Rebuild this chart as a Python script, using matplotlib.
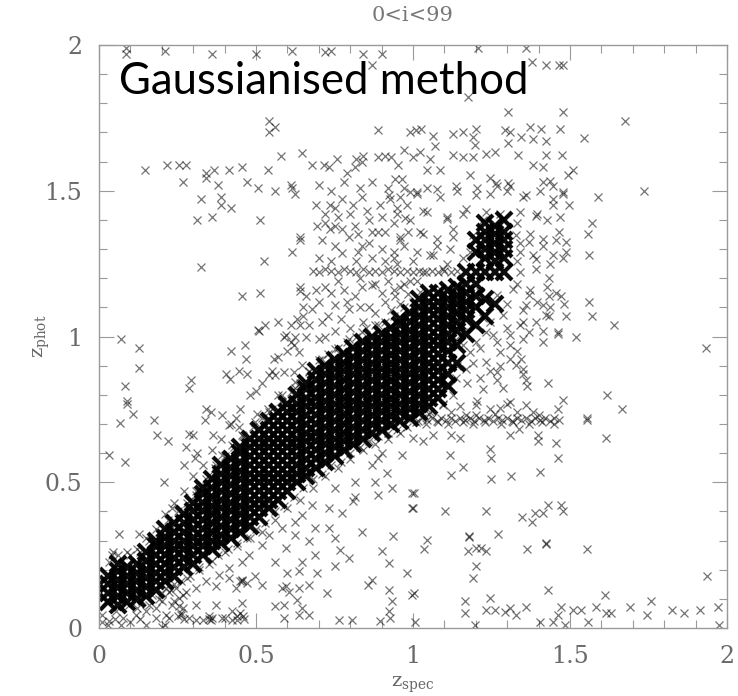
import matplotlib.pyplot as plt
import numpy as np

# dense core of the z_phot / z_spec band: (z_spec, [z_phot values]) read column by column
core_cols = [
    (0.03, [0.09, 0.12, 0.15, 0.18]),
    (0.06, [0.08, 0.11, 0.14, 0.165, 0.195, 0.22]),
    (0.09, [0.09, 0.12, 0.15, 0.18, 0.21]),
    (0.12, [0.10, 0.13, 0.16, 0.19, 0.22]),
    (0.15, [0.11, 0.14, 0.17, 0.20, 0.23, 0.26]),
    (0.18, [0.13, 0.16, 0.19, 0.22, 0.25, 0.28, 0.30]),
    (0.21, [0.16, 0.19, 0.22, 0.25, 0.28, 0.31, 0.34]),
    (0.24, [0.18, 0.21, 0.24, 0.27, 0.30, 0.33, 0.36]),
    (0.27, [0.21, 0.24, 0.27, 0.30, 0.33, 0.36, 0.39]),
    (0.30, [0.22, 0.25, 0.28, 0.31, 0.34, 0.37, 0.40, 0.43]),
    (0.33, [0.25, 0.28, 0.31, 0.34, 0.37, 0.40, 0.43, 0.46, 0.48]),
    (0.36, [0.27, 0.30, 0.33, 0.36, 0.39, 0.42, 0.45, 0.48, 0.51]),
    (0.39, [0.29, 0.32, 0.35, 0.38, 0.41, 0.44, 0.47, 0.50, 0.53, 0.56]),
    (0.42, [0.31, 0.34, 0.37, 0.40, 0.43, 0.46, 0.49, 0.52, 0.55, 0.58]),
    (0.45, [0.33, 0.36, 0.39, 0.42, 0.45, 0.48, 0.51, 0.54, 0.57, 0.60, 0.62]),
    (0.48, [0.35, 0.38, 0.41, 0.44, 0.47, 0.50, 0.53, 0.56, 0.59, 0.62, 0.65]),
    (0.51, [0.38, 0.41, 0.44, 0.47, 0.50, 0.53, 0.56, 0.59, 0.62, 0.65, 0.68]),
    (0.54, [0.41, 0.44, 0.47, 0.50, 0.53, 0.56, 0.59, 0.62, 0.65, 0.68, 0.71]),
    (0.57, [0.44, 0.47, 0.50, 0.53, 0.56, 0.59, 0.62, 0.65, 0.68, 0.71, 0.74]),
    (0.60, [0.47, 0.50, 0.53, 0.56, 0.59, 0.62, 0.65, 0.68, 0.71, 0.74, 0.77]),
    (0.63, [0.50, 0.53, 0.56, 0.59, 0.62, 0.65, 0.68, 0.71, 0.74, 0.77, 0.80]),
    (0.66, [0.52, 0.55, 0.58, 0.61, 0.64, 0.67, 0.70, 0.73, 0.76, 0.79, 0.82, 0.84]),
    (0.69, [0.55, 0.58, 0.61, 0.64, 0.67, 0.70, 0.73, 0.76, 0.79, 0.82, 0.85, 0.88]),
    (0.72, [0.57, 0.60, 0.63, 0.66, 0.69, 0.72, 0.75, 0.78, 0.81, 0.84, 0.87, 0.90]),
    (0.75, [0.59, 0.62, 0.65, 0.68, 0.71, 0.74, 0.77, 0.80, 0.83, 0.86, 0.89, 0.92]),
    (0.78, [0.61, 0.64, 0.67, 0.70, 0.73, 0.76, 0.79, 0.82, 0.85, 0.88, 0.91, 0.94]),
    (0.81, [0.63, 0.66, 0.69, 0.72, 0.75, 0.78, 0.81, 0.84, 0.87, 0.90, 0.93, 0.96]),
    (0.84, [0.65, 0.68, 0.71, 0.74, 0.77, 0.80, 0.83, 0.86, 0.89, 0.92, 0.95, 0.98]),
    (0.87, [0.67, 0.70, 0.73, 0.76, 0.79, 0.82, 0.85, 0.88, 0.91, 0.94, 0.97, 1.00]),
    (0.90, [0.68, 0.71, 0.74, 0.77, 0.80, 0.83, 0.86, 0.89, 0.92, 0.95, 0.98, 1.01]),
    (0.93, [0.70, 0.73, 0.76, 0.79, 0.82, 0.85, 0.88, 0.91, 0.94, 0.97, 1.00, 1.03]),
    (0.96, [0.71, 0.74, 0.77, 0.80, 0.83, 0.86, 0.89, 0.92, 0.95, 0.98, 1.01, 1.04, 1.06]),
    (0.99, [0.72, 0.75, 0.78, 0.81, 0.84, 0.87, 0.90, 0.93, 0.96, 0.99, 1.02, 1.05, 1.08]),
    (1.02, [0.74, 0.77, 0.80, 0.83, 0.86, 0.89, 0.92, 0.95, 0.98, 1.01, 1.04, 1.07, 1.10, 1.13]),
    (1.05, [0.76, 0.79, 0.82, 0.85, 0.88, 0.91, 0.94, 0.97, 1.00, 1.03, 1.06, 1.09, 1.12, 1.15]),
    (1.08, [0.79, 0.82, 0.85, 0.88, 0.91, 0.94, 0.97, 1.00, 1.03, 1.06, 1.09, 1.12, 1.15]),
    (1.11, [0.83, 0.87, 0.91, 0.95, 0.98, 1.01, 1.04, 1.07, 1.10, 1.13, 1.16]),
    (1.14, [0.91, 0.97, 1.02, 1.05, 1.08, 1.11, 1.14, 1.17]),
    (1.17, [1.01, 1.06, 1.09, 1.12, 1.15, 1.18, 1.22]),
    (1.20, [1.04, 1.10, 1.14, 1.18, 1.22, 1.29, 1.33]),
    (1.23, [1.07, 1.13, 1.22, 1.27, 1.30, 1.33, 1.36, 1.39]),
    (1.26, [1.11, 1.22, 1.26, 1.29, 1.32, 1.35, 1.38]),
    (1.29, [1.22, 1.27, 1.30, 1.33, 1.36, 1.40]),
]

# medium density cloud around the band
cloud_pts = [
    (0.678, 1.59), (0.715, 1.59), (0.731, 1.58), (0.757, 1.61), (0.79, 1.56), (0.815, 1.58),
    (0.82, 1.61), (0.837, 1.60), (0.84, 1.62), (0.89, 1.615), (0.91, 1.62), (0.93, 1.615),
    (0.953, 1.59), (0.97, 1.64), (1.0, 1.615), (0.964, 1.54), (0.943, 1.54),
    (0.69, 1.45), (0.736, 1.45), (0.752, 1.44), (0.773, 1.47), (0.81, 1.45), (0.837, 1.48),
    (0.853, 1.43), (0.895, 1.45), (0.927, 1.47), (0.922, 1.485), (0.948, 1.44), (0.974, 1.405),
    (0.99, 1.495), (0.98, 1.45),
    (0.694, 1.38), (0.72, 1.39), (0.736, 1.37), (0.752, 1.38), (0.773, 1.37), (0.795, 1.34),
    (0.816, 1.38), (0.826, 1.35), (0.837, 1.31), (0.869, 1.36), (0.89, 1.36), (0.911, 1.36),
    (0.958, 1.34), (0.985, 1.36), (0.773, 1.285), (0.826, 1.29), (0.82, 1.26),
    (0.68, 1.225), (0.70, 1.22), (0.72, 1.23), (0.74, 1.225), (0.76, 1.22), (0.78, 1.23),
    (0.80, 1.225), (0.82, 1.22), (0.84, 1.23), (0.86, 1.22), (0.88, 1.225), (0.90, 1.22),
    (0.92, 1.23), (0.94, 1.225), (0.96, 1.22), (0.98, 1.225), (1.00, 1.22), (1.02, 1.225),
    (1.04, 1.22), (1.06, 1.225), (1.08, 1.22), (1.10, 1.225), (1.12, 1.22), (1.14, 1.225),
    (0.72, 1.17), (0.74, 1.15), (0.78, 1.16), (0.816, 1.14), (0.837, 1.17), (0.869, 1.175),
    (0.9, 1.15), (0.943, 1.14), (0.985, 1.145), (0.752, 1.107), (0.795, 1.095), (0.73, 1.07),
    (0.678, 1.095), (0.71, 1.05), (0.86, 1.10), (0.88, 1.08), (0.91, 1.12), (0.93, 1.09),
    (0.96, 1.11), (0.89, 1.04), (0.84, 1.05), (0.80, 1.03), (0.77, 1.06), (0.94, 1.16),
    (0.97, 1.18), (0.99, 1.19), (0.65, 1.10), (0.66, 1.00), (0.70, 0.99), (0.62, 0.97),
    (0.70, 1.52), (0.74, 1.50), (0.78, 1.53), (0.83, 1.51), (0.87, 1.53), (0.92, 1.51),
    (0.96, 1.48), (0.72, 1.42), (0.76, 1.41), (0.80, 1.42), (0.86, 1.40), (0.90, 1.41),
    (0.94, 1.39), (0.71, 1.33), (0.75, 1.31), (0.86, 1.32), (0.90, 1.30), (0.94, 1.29),
    (0.97, 1.31), (0.70, 1.27), (0.74, 1.26), (0.87, 1.27), (0.91, 1.26), (0.95, 1.25),
    (0.69, 1.16), (0.76, 1.19), (0.83, 1.20), (0.88, 1.18), (0.92, 1.19), (0.66, 1.14),
    (0.70, 1.12), (0.79, 1.12), (0.83, 1.10), (0.75, 1.02), (0.72, 1.00), (0.67, 1.04),
    (0.63, 1.06), (0.60, 0.95), (0.57, 0.93), (0.55, 0.88), (0.52, 0.84), (0.48, 0.80),
    (0.45, 0.75), (0.42, 0.70), (0.39, 0.65), (0.36, 0.61), (0.33, 0.56), (0.30, 0.52),
    (0.27, 0.47), (0.24, 0.43), (0.21, 0.39), (0.18, 0.34), (0.15, 0.31), (0.12, 0.27),
    (0.09, 0.26), (0.06, 0.25),
    (0.04, 0.25), (0.10, 0.25), (0.13, 0.26), (0.16, 0.30), (0.19, 0.33), (0.22, 0.37),
    (0.25, 0.40), (0.28, 0.43), (0.31, 0.47), (0.34, 0.51), (0.37, 0.55), (0.40, 0.59),
    (0.43, 0.62), (0.46, 0.66), (0.49, 0.69), (0.52, 0.72), (0.55, 0.75), (0.58, 0.78),
    (0.61, 0.81), (0.64, 0.84), (0.67, 0.88), (0.70, 0.92), (0.73, 0.94), (0.76, 0.96),
    (0.79, 0.98), (0.82, 1.00), (0.85, 1.03), (0.88, 1.04), (0.91, 1.05), (0.94, 1.07),
    (0.97, 1.10), (1.00, 1.12),
    (0.12, 0.07), (0.16, 0.08), (0.19, 0.10), (0.23, 0.13), (0.26, 0.16), (0.29, 0.18),
    (0.32, 0.21), (0.35, 0.22), (0.38, 0.25), (0.41, 0.27), (0.44, 0.29), (0.47, 0.31),
    (0.50, 0.34), (0.53, 0.36), (0.56, 0.40), (0.59, 0.42), (0.62, 0.45), (0.65, 0.48),
    (0.68, 0.51), (0.71, 0.53), (0.74, 0.56), (0.77, 0.57), (0.80, 0.60), (0.83, 0.62),
    (0.86, 0.64), (0.89, 0.66), (0.92, 0.67), (0.95, 0.68), (0.98, 0.69),
    (0.20, 0.12), (0.24, 0.15), (0.28, 0.17), (0.32, 0.20), (0.36, 0.23), (0.40, 0.26),
    (0.44, 0.28), (0.48, 0.31), (0.52, 0.33), (0.56, 0.37), (0.60, 0.41), (0.64, 0.44),
    (0.68, 0.48), (0.72, 0.52), (0.76, 0.55), (0.80, 0.58), (0.84, 0.61), (0.88, 0.63),
    (0.92, 0.65), (0.96, 0.67),
    (0.97, 1.51), (1.012, 1.49), (1.044, 1.51), (1.086, 1.48), (1.139, 1.50), (1.203, 1.51),
    (1.245, 1.49), (1.298, 1.50), (1.351, 1.48), (1.404, 1.50), (1.447, 1.47), (1.479, 1.49),
    (0.948, 1.42), (0.99, 1.40), (1.033, 1.43), (1.107, 1.41), (1.16, 1.42), (1.224, 1.40),
    (1.277, 1.42), (1.33, 1.39), (1.394, 1.42), (1.426, 1.40), (1.468, 1.41),
    (0.959, 1.33), (1.033, 1.35), (1.075, 1.31), (1.128, 1.34), (1.34, 1.32), (1.373, 1.35),
    (1.415, 1.31), (1.457, 1.33),
    (0.938, 1.27), (1.001, 1.26), (1.054, 1.28), (1.107, 1.25), (1.16, 1.27), (1.33, 1.26),
    (1.383, 1.28), (1.436, 1.25), (1.479, 1.27),
    (0.959, 1.17), (1.012, 1.19), (1.33, 1.18), (1.373, 1.16), (1.426, 1.17), (1.457, 1.15),
    (1.298, 1.11), (1.351, 1.09), (1.394, 1.12), (1.436, 1.10),
    (1.192, 1.04), (1.245, 1.05), (1.298, 1.03), (1.351, 1.05), (1.415, 1.02),
    (1.16, 0.97), (1.213, 0.96), (1.266, 0.98), (1.33, 0.95),
    (1.139, 0.90), (1.192, 0.91), (1.245, 0.88), (1.277, 0.90), (1.351, 0.89),
    (1.118, 0.83), (1.171, 0.84), (1.224, 0.82), (1.266, 0.85), (1.362, 0.83),
    (1.096, 0.77), (1.149, 0.76), (1.203, 0.78), (1.245, 0.75), (1.298, 0.77),
    (1.012, 1.496), (1.075, 1.507), (1.138, 1.518), (1.202, 1.484), (1.266, 1.518), (1.308, 1.518),
    (1.361, 1.484), (1.414, 1.53), (1.445, 1.518), (1.477, 1.496),
    (1.043, 1.427), (1.107, 1.404), (1.17, 1.438), (1.234, 1.427), (1.287, 1.404), (1.34, 1.427),
    (1.392, 1.415), (1.445, 1.45), (1.498, 1.45),
    (1.022, 1.359), (1.075, 1.336), (1.128, 1.37), (1.191, 1.347), (1.244, 1.37), (1.329, 1.347),
    (1.371, 1.324), (1.414, 1.336), (1.466, 1.359), (1.488, 1.324),
    (1.012, 1.29), (1.064, 1.279), (1.117, 1.301), (1.18, 1.29), (1.34, 1.29), (1.392, 1.267),
    (1.445, 1.279), (1.488, 1.29),
    (1.033, 1.221), (1.096, 1.233), (1.34, 1.221), (1.392, 1.233), (1.434, 1.199),
    (1.022, 1.153), (1.085, 1.164), (1.149, 1.141), (1.212, 1.153), (1.266, 1.141), (1.318, 1.164),
    (1.371, 1.141), (1.414, 1.107), (1.361, 1.107),
    (1.012, 1.084), (1.075, 1.073), (1.149, 1.096), (1.223, 1.062), (1.287, 1.073), (1.34, 1.039),
    (1.392, 1.05), (1.424, 1.073),
    (1.096, 1.027), (1.159, 1.016), (1.234, 1.016), (1.308, 1.004), (1.371, 1.016),
    (1.011, 1.707), (1.027, 1.712), (1.064, 1.689), (1.128, 1.695), (1.159, 1.703), (1.202, 1.712),
    (1.191, 1.684), (1.197, 1.657), (1.292, 1.707), (1.308, 1.703), (1.345, 1.684), (1.372, 1.718),
    (1.409, 1.712), (1.425, 1.672), (1.467, 1.712), (1.383, 1.678), (1.302, 1.664),
    (1.022, 1.632), (1.054, 1.609), (1.069, 1.655), (1.128, 1.621), (1.159, 1.615), (1.191, 1.615),
    (1.234, 1.626), (1.26, 1.632), (1.334, 1.621), (1.425, 1.621), (1.473, 1.621),
    (1.043, 1.572), (1.085, 1.572), (1.18, 1.555), (1.244, 1.543), (1.265, 1.526), (1.302, 1.526),
    (1.383, 1.589), (1.414, 1.583), (1.435, 1.532), (1.493, 1.555), (1.509, 1.572),
    (1.149, 1.004), (1.202, 0.982), (1.255, 1.004), (1.308, 0.97), (1.35, 0.993), (1.18, 0.947),
    (1.234, 0.913), (1.276, 0.947), (1.329, 0.902), (1.17, 0.89), (1.212, 0.856), (1.266, 0.879),
    (1.287, 0.822), (1.308, 0.776), (1.276, 0.754), (1.361, 0.765), (1.382, 0.742), (1.202, 0.765),
    (1.17, 0.731), (1.128, 0.799), (1.138, 0.856), (1.096, 0.765), (1.054, 0.742),
    (1.00, 0.72), (1.015, 0.71), (1.03, 0.72), (1.045, 0.715), (1.06, 0.72), (1.075, 0.71),
    (1.09, 0.72), (1.105, 0.715), (1.12, 0.72), (1.135, 0.71), (1.15, 0.72), (1.165, 0.715),
    (1.18, 0.72), (1.195, 0.71), (1.21, 0.72), (1.225, 0.715), (1.24, 0.72), (1.255, 0.71),
    (1.27, 0.72), (1.285, 0.715), (1.30, 0.72), (1.315, 0.71), (1.33, 0.72), (1.345, 0.715),
    (1.36, 0.72), (1.375, 0.71), (1.39, 0.72), (1.405, 0.715), (1.42, 0.72), (1.435, 0.71),
    (1.45, 0.72), (1.465, 0.715), (1.05, 0.735), (1.12, 0.74), (1.20, 0.73), (1.26, 0.735),
    (1.33, 0.74), (1.40, 0.73),
    (1.01, 0.705), (1.04, 0.70), (1.08, 0.705), (1.11, 0.70), (1.16, 0.705), (1.19, 0.70),
    (1.23, 0.705), (1.28, 0.70), (1.32, 0.705), (1.37, 0.70), (1.41, 0.705), (1.45, 0.70),
    (0.562, 0.228), (0.594, 0.274), (0.625, 0.319), (0.647, 0.228), (0.689, 0.342), (0.689, 0.251),
    (0.731, 0.342), (0.752, 0.308), (0.752, 0.211), (0.795, 0.24), (0.769, 0.268), (0.837, 0.331),
    (0.9, 0.263), (0.922, 0.222), (0.937, 0.314), (0.98, 0.188), (0.636, 0.194), (0.694, 0.188),
    (0.599, 0.188), (0.605, 0.125), (0.636, 0.137), (0.583, 0.137), (0.668, 0.148), (0.668, 0.297),
    (0.731, 0.411), (0.773, 0.394), (0.81, 0.434), (0.816, 0.451), (0.88, 0.502), (0.89, 0.457),
    (0.916, 0.531), (0.933, 0.479), (0.964, 0.594), (0.996, 0.462), (0.996, 0.411), (0.816, 0.502),
    (0.752, 0.479), (0.89, 0.582), (0.9, 0.599), (0.869, 0.559), (0.678, 0.422), (0.647, 0.388),
    (0.625, 0.365), (0.583, 0.342), (0.541, 0.319), (0.52, 0.285), (0.478, 0.251), (0.456, 0.228),
    (0.414, 0.205), (0.382, 0.182), (0.34, 0.16), (0.308, 0.137), (0.276, 0.125), (0.255, 0.103),
    (0.234, 0.08), (0.202, 0.091), (0.18, 0.068), (0.149, 0.057), (0.117, 0.045), (0.075, 0.034),
    (0.054, 0.057), (0.033, 0.023), (0.011, 0.045), (0.022, 0.091), (0.033, 0.16), (0.011, 0.137),
    (0.033, 0.228), (0.043, 0.262), (0.064, 0.194), (0.149, 0.228), (0.18, 0.274), (0.202, 0.297),
    (0.234, 0.342), (0.266, 0.388), (0.287, 0.434), (0.308, 0.457), (0.329, 0.491), (0.35, 0.525),
    (0.372, 0.559), (0.393, 0.594), (0.425, 0.628), (0.456, 0.662), (0.498, 0.708), (0.541, 0.742),
    (0.583, 0.799), (0.625, 0.845), (0.668, 0.879), (0.71, 0.924), (0.752, 0.958), (0.795, 0.993),
    (0.837, 1.016), (0.096, 0.08), (0.138, 0.091), (0.17, 0.114), (0.212, 0.137), (0.117, 0.114),
    (0.244, 0.137), (0.18, 0.034), (0.223, 0.034), (0.266, 0.068), (0.212, 0.045),
]

# isolated catastrophic outliers
outlier_pts = [
    (0.086, 1.99), (0.086, 1.97), (0.21, 1.98), (0.36, 1.97), (0.50, 1.97), (0.615, 1.98),
    (0.72, 1.975), (0.74, 1.98), (0.84, 1.97), (0.90, 1.97), (0.87, 1.93),
    (0.54, 1.74), (0.54, 1.70), (0.56, 1.72), (0.89, 1.71), (0.99, 1.70), (0.58, 1.62), (0.645, 1.63),
    (0.146, 1.57), (0.218, 1.59), (0.254, 1.59), (0.278, 1.59), (0.267, 1.53), (0.34, 1.56),
    (0.34, 1.545), (0.365, 1.57), (0.38, 1.52), (0.414, 1.57), (0.456, 1.58), (0.472, 1.53),
    (0.506, 1.51), (0.539, 1.57), (0.562, 1.50), (0.61, 1.52), (0.615, 1.51), (0.625, 1.49),
    (0.324, 1.47), (0.387, 1.48), (0.39, 1.45), (0.42, 1.44), (0.313, 1.40), (0.359, 1.41),
    (0.514, 1.40), (0.324, 1.24), (0.524, 1.26), (0.615, 1.29), (0.64, 1.34), (0.64, 1.33),
    (0.454, 1.14), (0.514, 1.15), (0.64, 1.17), (0.64, 1.155),
    (0.51, 1.02), (0.53, 1.04), (0.57, 1.05), (0.61, 1.04), (0.64, 1.04), (0.65, 1.07),
    (0.59, 1.00), (0.625, 1.00),
    (1.207, 1.99), (1.359, 1.99), (1.38, 1.94), (1.424, 1.93), (1.466, 1.93), (1.479, 1.93),
    (1.175, 1.82), (1.302, 1.77), (1.477, 1.77), (1.676, 1.74), (1.546, 1.68), (1.736, 1.50),
    (1.588, 1.48), (1.57, 1.39), (1.556, 1.35), (1.561, 1.28), (1.561, 1.12), (1.57, 1.07),
    (1.64, 1.04), (1.519, 1.00), (1.461, 1.01), (1.482, 1.11), (1.471, 1.14), (1.434, 1.14),
    (1.487, 1.07), (1.434, 1.07),
    (1.462, 1.014), (1.414, 0.982), (1.934, 0.961), (1.308, 0.922), (1.345, 0.922), (1.429, 0.842),
    (1.35, 0.873), (1.36, 0.85), (1.617, 0.801), (1.477, 0.782), (1.461, 0.751), (1.667, 0.751),
    (1.553, 0.721), (1.553, 0.713), (1.614, 0.653),
    (1.001, 0.652), (1.033, 0.641), (1.064, 0.662), (1.122, 0.662), (1.149, 0.652), (1.308, 0.662),
    (1.339, 0.682), (1.397, 0.641), (1.397, 0.662), (1.454, 0.633),
    (1.117, 0.594), (1.244, 0.614), (1.249, 0.582), (1.159, 0.553), (1.122, 0.525), (1.249, 0.511),
    (1.313, 0.523), (1.404, 0.534), (1.461, 0.582),
    (1.003, 0.462), (0.999, 0.411), (1.101, 0.402), (1.232, 0.402), (1.429, 0.422), (1.472, 0.422),
    (1.479, 0.402), (1.348, 0.382), (1.39, 0.394), (1.414, 0.394), (1.380, 0.363),
    (1.043, 0.303), (1.035, 0.272), (1.178, 0.317), (1.178, 0.311), (1.175, 0.263), (1.202, 0.274),
    (1.218, 0.274), (1.232, 0.263), (1.271, 0.322), (1.363, 0.272), (1.422, 0.288), (1.422, 0.292),
    (1.553, 0.272), (1.202, 0.211), (1.191, 0.171), (1.937, 0.180),
    (1.003, 0.120), (1.429, 0.131), (1.612, 0.112), (1.757, 0.091), (1.246, 0.103), (1.165, 0.091),
    (1.165, 0.051), (1.232, 0.062), (1.260, 0.062), (1.292, 0.054), (1.308, 0.068), (1.327, 0.043),
    (1.361, 0.071), (1.472, 0.071), (1.511, 0.062), (1.535, 0.062), (1.583, 0.071), (1.615, 0.051),
    (1.631, 0.051), (1.691, 0.071), (1.744, 0.043), (1.824, 0.062), (1.864, 0.051), (1.913, 0.062),
    (1.972, 0.071), (1.006, 0.02), (1.197, 0.01), (1.405, 0.02), (1.447, 0.02), (1.461, 0.043),
    (1.485, 0.01), (1.556, 0.02), (1.974, 0.01),
    (0.070, 0.993), (0.128, 0.961), (0.128, 0.892), (0.084, 0.831), (0.088, 0.778), (0.088, 0.767),
    (0.107, 0.733), (0.067, 0.702), (0.033, 0.594), (0.084, 0.571), (0.176, 0.713), (0.186, 0.662),
    (0.221, 0.642), (0.207, 0.502), (0.232, 0.411), (0.292, 0.850), (0.287, 0.822), (0.276, 0.622),
    (0.287, 0.664), (0.299, 0.662), (0.271, 0.559), (0.313, 0.599), (0.306, 0.582), (0.340, 0.753),
    (0.356, 0.742), (0.338, 0.713), (0.363, 0.662), (0.391, 0.731), (0.435, 0.719), (0.414, 0.696),
    (0.446, 0.691), (0.419, 0.949), (0.465, 0.972), (0.469, 0.922), (0.405, 0.873), (0.416, 0.854),
    (0.446, 0.881), (0.472, 0.870), (0.501, 0.813), (0.557, 0.922), (0.541, 0.867), (0.562, 0.867),
    (0.589, 0.879), (0.620, 0.879), (0.623, 0.822), (0.636, 0.947), (0.647, 0.901), (0.594, 1.004),
    (0.610, 0.981), (0.507, 1.021), (0.503, 0.733), (0.538, 0.719), (0.571, 0.799), (0.582, 0.776),
    (0.538, 0.751), (0.064, 0.322), (0.128, 0.322),
    (0.372, 0.143), (0.414, 0.171), (0.435, 0.137), (0.456, 0.160), (0.472, 0.154), (0.498, 0.177),
    (0.52, 0.148), (0.456, 0.086), (0.425, 0.057), (0.372, 0.080), (0.393, 0.034), (0.356, 0.028),
    (0.425, 0.028), (0.441, 0.028), (0.462, 0.031), (0.45, 0.16), (0.455, 0.165),
    (0.260, 0.045), (0.287, 0.034), (0.308, 0.028), (0.330, 0.028), (0.239, 0.091), (0.255, 0.074),
    (0.266, 0.114), (0.223, 0.125), (0.308, 0.080),
    (0.562, 0.074), (0.589, 0.080), (0.594, 0.143), (0.631, 0.097), (0.647, 0.068), (0.668, 0.045),
    (0.636, 0.045), (0.589, 0.034),
    (0.726, 0.120), (0.763, 0.028), (0.805, 0.028), (0.858, 0.148), (0.869, 0.165), (0.895, 0.023),
    (0.922, 0.131), (0.933, 0.091), (0.922, 0.057), (0.927, 0.034), (0.996, 0.114),
    (0.01, 0.02), (0.03, 0.01), (0.05, 0.03), (0.07, 0.01), (0.10, 0.02), (0.13, 0.03),
    (0.15, 0.01), (0.20, 0.005), (0.21, 0.01), (0.25, 0.04), (0.26, 0.05), (0.27, 0.03),
    (0.35, 0.03), (0.35, 0.04), (0.36, 0.035), (0.40, 0.035), (0.44, 0.04), (0.45, 0.05),
    (0.46, 0.04),
]

title_text = "0<i<99"
method_text = "Gaussianised method"
x_label = r"$\mathregular{z_{spec}}$"
y_label = r"$\mathregular{z_{phot}}$"
tick_vals = [0, 0.5, 1, 1.5, 2]
tick_labels = ["0", "0.5", "1", "1.5", "2"]

core = np.array([(x, y) for x, ys in core_cols for y in ys])
pts = np.array(cloud_pts + outlier_pts)

plt.rcParams['font.family'] = 'DejaVu Serif'
grey = '#9a9a9a'

fig = plt.figure(figsize=(7.38, 6.96), dpi=100)
ax = fig.add_axes([99 / 738, 68 / 696, 628 / 738, 583 / 696])

ax.plot(core[:, 0], core[:, 1], 'x', color='black', ms=12, mew=3.0, alpha=0.95)
ax.plot(pts[:, 0], pts[:, 1], 'x', color='black', ms=5.5, mew=0.9, alpha=0.55)

ax.set_xlim(0, 2)
ax.set_ylim(0, 2)
ax.set_xticks(tick_vals)
ax.set_xticklabels(tick_labels)
ax.set_yticks(tick_vals)
ax.set_yticklabels(tick_labels)
ax.set_xticks(np.arange(0, 2.01, 0.1), minor=True)
ax.set_yticks(np.arange(0, 2.01, 0.1), minor=True)
ax.tick_params(which='both', direction='in', top=True, right=True, color=grey,
               labelsize=17, labelcolor='#6a6a6a', pad=12)
ax.tick_params(which='major', length=11, width=0.8)
ax.tick_params(which='minor', length=6, width=0.8)
for s in ax.spines.values():
    s.set_color(grey)
    s.set_linewidth(1)

ax.set_title(title_text, fontsize=15, color='#777777', pad=17)
ax.set_xlabel(x_label, fontsize=14, color='#666666', labelpad=5)
ax.set_ylabel(y_label, fontsize=14, color='#666666', labelpad=-5)

ax.text(0.032, 0.916, method_text, transform=ax.transAxes, family='Lato',
        fontsize=31.5, color='black', va='baseline', ha='left')

fig.savefig('out.png', dpi=100)
